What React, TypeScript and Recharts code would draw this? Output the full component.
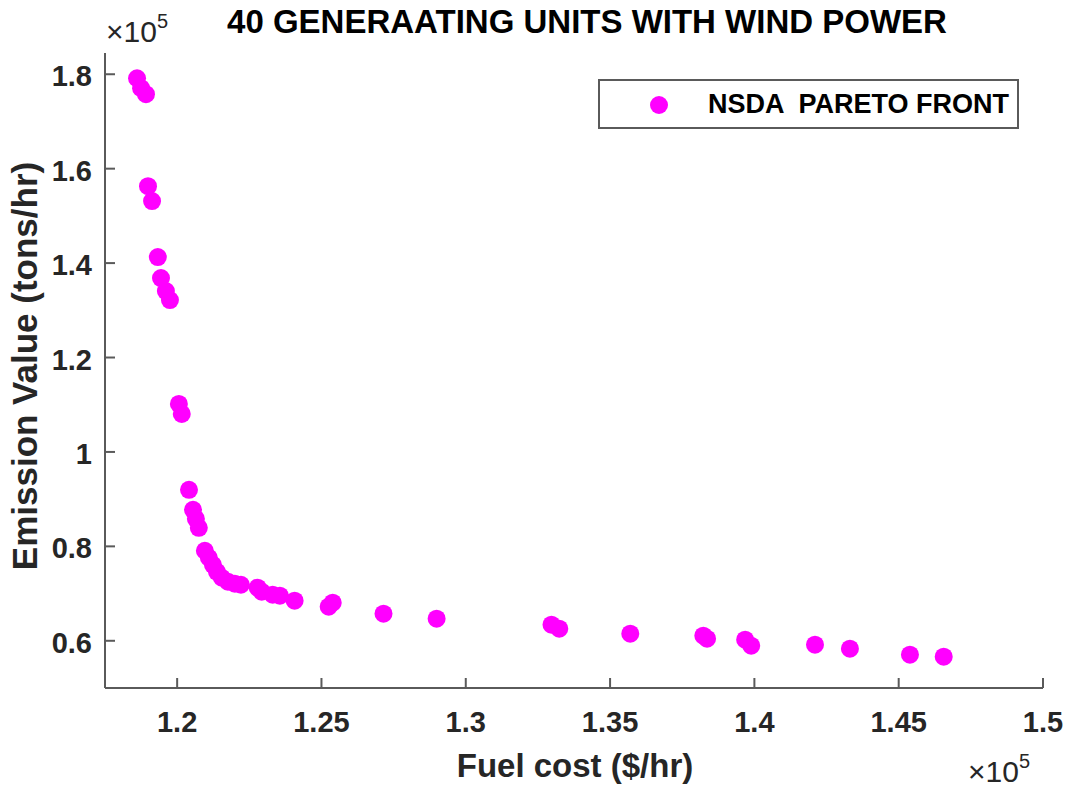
import React from 'react'
import { ScatterChart, Scatter, XAxis, YAxis } from 'recharts'

const fuelCost = [
  118610, 118750, 118920, 118990, 119130, 119330, 119440, 119610, 119750, 120060,
  120160, 120410, 120550, 120650, 120750, 120960, 121100, 121240, 121380, 121550,
  121760, 122000, 122210, 122790, 122930, 123310, 123560, 124070, 125250, 125390,
  127150, 128990, 132970, 133240, 135700, 138230, 138360, 139680, 139890, 142100,
  143310, 145390, 146560,
]
const emission = [
  179150, 177040, 175770, 156300, 153130, 141280, 136830, 134080, 132180, 110170,
  108060, 91970, 87740, 85840, 83930, 79070, 77590, 76100, 74620, 73350,
  72510, 72080, 71870, 71240, 70400, 69760, 69550, 68490, 67220, 68060,
  65740, 64680, 63410, 62560, 61500, 61080, 60450, 60240, 58970, 59180,
  58330, 57060, 56640,
]
const xTicks = [120000, 125000, 130000, 135000, 140000, 145000, 150000]
const yTicks = [60000, 80000, 100000, 120000, 140000, 160000, 180000]

const points = fuelCost.map((x, i) => ({ x, y: emission[i] }))

const MAGENTA = '#FF00FF'
const AXIS = '#5a5a5a'
const TEXT = '#262626'
const FONT = 'Liberation Sans, Arial, sans-serif'

const fmt = (v: number) => String(parseFloat((v / 1e5).toFixed(2)))

const Dot = (props: any) => <circle cx={props.cx} cy={props.cy} r={9} fill={MAGENTA} />

// MATLAB style: ticks point into the axes
const XTick = ({ x, y, payload }: any) => (
  <g>
    <line x1={x} x2={x} y1={y} y2={y - 10} stroke={AXIS} strokeWidth={2} />
    <text x={x} y={y + 44} textAnchor="middle" fill={TEXT} fontSize={29} fontWeight="bold" fontFamily={FONT}>
      {fmt(payload.value)}
    </text>
  </g>
)

const YTick = ({ x, y, payload }: any) => (
  <g>
    <line x1={x} x2={x + 10} y1={y} y2={y} stroke={AXIS} strokeWidth={2} />
    <text x={x - 13} y={y + 12} textAnchor="end" fill={TEXT} fontSize={29} fontWeight="bold" fontFamily={FONT}>
      {fmt(payload.value)}
    </text>
  </g>
)

function LegendBox() {
  return (
    <div
      style={{
        position: 'absolute',
        left: 598,
        top: 79,
        width: 417,
        height: 46,
        border: `2px solid ${AXIS}`,
        background: '#fff',
        fontFamily: FONT,
      }}
    >
      <svg width={30} height={30} style={{ position: 'absolute', left: 44, top: 9 }}>
        <circle cx={15} cy={15} r={9} fill={MAGENTA} />
      </svg>
      <span
        style={{
          position: 'absolute',
          left: 108,
          top: 8,
          fontSize: 27,
          fontWeight: 'bold',
          color: '#000',
          whiteSpace: 'pre',
          lineHeight: '30px',
        }}
      >
        {'NSDA  PARETO FRONT'}
      </span>
    </div>
  )
}

export default function App() {
  return (
    <div style={{ position: 'absolute', left: 0, top: 0, width: 1070, height: 789, background: '#fff', fontFamily: FONT }}>
      <ScatterChart width={1070} height={789} margin={{ top: 53, right: 27, bottom: 51, left: 45 }}>
        <XAxis
          xAxisId="b"
          type="number"
          dataKey="x"
          domain={[117500, 150000]}
          ticks={xTicks}
          allowDataOverflow
          height={50}
          stroke={AXIS}
          strokeWidth={2}
          tickLine={false}
          tickSize={0}
          tickMargin={0}
          tick={XTick}
        />
        <XAxis xAxisId="t" type="number" orientation="top" domain={[117500, 150000]} height={0} tick={false} tickLine={false} stroke={AXIS} strokeWidth={2} />
        <YAxis
          yAxisId="l"
          type="number"
          dataKey="y"
          domain={[50000, 184500]}
          ticks={yTicks}
          allowDataOverflow
          width={60}
          stroke={AXIS}
          strokeWidth={2}
          tickLine={false}
          tickSize={0}
          tickMargin={0}
          tick={YTick}
        />
        <YAxis yAxisId="r" type="number" orientation="right" domain={[50000, 184500]} width={0} tick={false} tickLine={false} stroke={AXIS} strokeWidth={2} />
        <Scatter
          name="NSDA  PARETO FRONT"
          data={points}
          xAxisId="b"
          yAxisId="l"
          fill={MAGENTA}
          shape={Dot}
          isAnimationActive={false}
        />
      </ScatterChart>

      <LegendBox />

      <svg width={1070} height={789} style={{ position: 'absolute', left: 0, top: 0, pointerEvents: 'none' }} fontFamily={FONT}>
        <text x={587} y={33} textAnchor="middle" fontSize={33} fontWeight="bold" fill="#000">
          40 GENERAATING UNITS WITH WIND POWER
        </text>
        <text x={575} y={777} textAnchor="middle" fontSize={33} fontWeight="bold" fill={TEXT}>
          Fuel cost ($/hr)
        </text>
        <text x={37} y={366} textAnchor="middle" fontSize={35} fontWeight="bold" fill={TEXT} transform="rotate(-90 37 366)">
          Emission Value (tons/hr)
        </text>
        <text x={106} y={42} fontSize={30} fill={TEXT}>
          ×10<tspan fontSize={20} dy={-14}>5</tspan>
        </text>
        <text x={968} y={782} fontSize={30} fill={TEXT}>
          ×10<tspan fontSize={20} dy={-14}>5</tspan>
        </text>
      </svg>
    </div>
  )
}
